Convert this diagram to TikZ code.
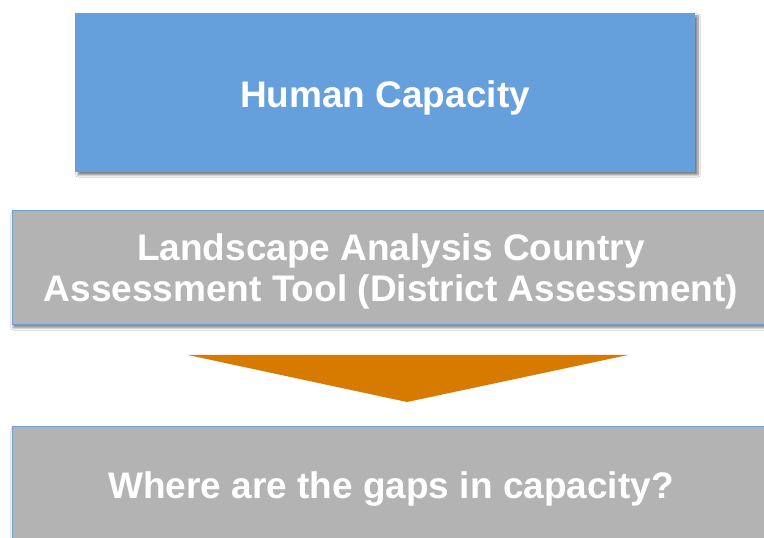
\documentclass[tikz,border=0pt]{standalone}
\usepackage{fontspec}
\setmainfont{Liberation Sans}
\usepackage{tikz}
\usetikzlibrary{positioning,shadows.blur,calc}
\definecolor{capblue}{RGB}{101,159,220}
\definecolor{capgrey}{RGB}{179,179,179}
\definecolor{capedge}{RGB}{106,159,216}
\definecolor{caporange}{RGB}{215,122,0}
\tikzset{
  topbox/.style={rectangle,fill=capblue,text=white,font=\bfseries\fontsize{37}{41}\selectfont,align=center,minimum width=620pt,minimum height=159pt,inner sep=0pt,text height=38pt,text depth=8pt,blur shadow={shadow xshift=3pt,shadow yshift=-3pt,shadow blur steps=8,shadow opacity=50}},
  greybox/.style={rectangle,fill=capgrey,draw=capedge,line width=1pt,text=white,font=\bfseries\fontsize{37}{41}\selectfont,align=center,minimum width=758pt,minimum height=114pt,inner sep=0pt,blur shadow={shadow xshift=1pt,shadow yshift=-3pt,shadow blur steps=6,shadow opacity=45}},
  downarrow/.style={fill=caporange}
}
\begin{document}
\begin{tikzpicture}[x=1pt,y=1pt]
  \useasboundingbox[fill=white] (0,0) rectangle (764,538);
  \clip (0,0) rectangle (764,538);
  \node[topbox] (human) at (385,445.5) {Human Capacity};
  \node[greybox,text height=75pt] (tool) at (391,270) {Landscape Analysis Country\\Assessment Tool (District Assessment)};
  \node[greybox,text height=38pt,text depth=8pt] (gaps) at (391,54) {Where are the gaps in capacity?};
  % orange arrow between the grey boxes
  \coordinate (arrL) at (188,183);
  \coordinate (arrR) at (628,183);
  \coordinate (arrTip) at (407,136);
  \fill[downarrow] (arrL) -- (arrR) -- (arrTip) -- cycle;
\end{tikzpicture}
\end{document}
